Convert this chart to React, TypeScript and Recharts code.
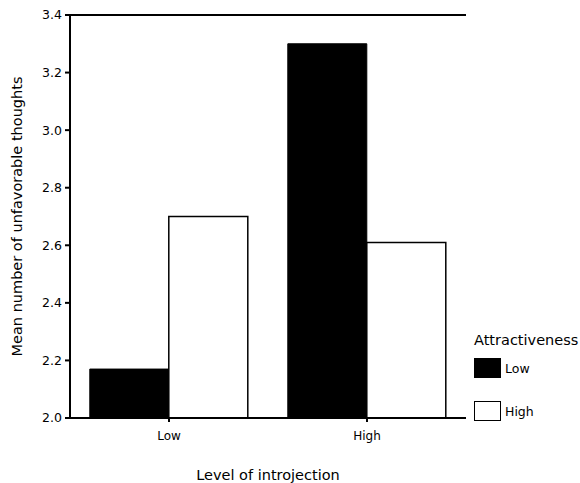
import { BarChart, Bar, XAxis, YAxis, ReferenceLine, Legend } from "recharts"

const introjection = ["Low", "High"]
const lowAttractiveness = [2.17, 3.30]
const highAttractiveness = [2.70, 2.61]
const yTicks = [2.0, 2.2, 2.4, 2.6, 2.8, 3.0, 3.2, 3.4]
const legendOrder = ["Low", "High"]

const data = introjection.map((level, i) => ({
  level,
  low: lowAttractiveness[i],
  high: highAttractiveness[i],
}))

const font = "'DejaVu Sans', sans-serif"

function AttractivenessLegend({ payload }: any) {
  const items = [...(payload || [])].sort(
    (a: any, b: any) => legendOrder.indexOf(a.value) - legendOrder.indexOf(b.value)
  )
  return (
    <div style={{ fontFamily: font, color: "#000" }}>
      <div style={{ fontSize: 14.5, lineHeight: "17px" }}>Attractiveness</div>
      {items.map((entry: any, i: number) => (
        <div
          key={entry.value}
          style={{ display: "flex", alignItems: "center", marginTop: i === 0 ? 9 : 23, height: 20 }}
        >
          <div
            style={{
              width: 25,
              height: 18,
              background: entry.color,
              border: "1.5px solid #000",
              marginRight: 4,
            }}
          />
          <span style={{ fontSize: 12.5 }}>{entry.value}</span>
        </div>
      ))}
    </div>
  )
}

export default function App() {
  return (
    <div style={{ position: "absolute", left: 0, top: 0, background: "#fff", fontFamily: font }}>
      <BarChart
        width={580}
        height={483}
        data={data}
        margin={{ top: 15, right: 114, bottom: 0, left: 10 }}
        barCategoryGap="10%"
        barGap={0}
      >
        <XAxis
          dataKey="level"
          height={65}
          stroke="#000"
          strokeWidth={2}
          tickSize={4}
          tickMargin={9}
          tick={{ fontSize: 12, fill: "#000", fontFamily: font }}
          label={{
            value: "Level of introjection",
            position: "insideBottom",
            offset: 3,
            fontSize: 14.5,
            fill: "#000",
            fontFamily: font,
          }}
        />
        <YAxis
          domain={[2, 3.4]}
          ticks={yTicks}
          width={60}
          stroke="#000"
          strokeWidth={2}
          tickSize={5}
          tickMargin={3}
          tickFormatter={(v) => Number(v).toFixed(1)}
          tick={{ fontSize: 12.5, fill: "#000", fontFamily: font }}
          label={{
            value: "Mean number of unfavorable thoughts",
            angle: -90,
            position: "insideLeft",
            offset: 7,
            fontSize: 14.5,
            fill: "#000",
            fontFamily: font,
            style: { textAnchor: "middle" },
          }}
        />
        <YAxis
          yAxisId="right"
          orientation="right"
          domain={[2, 3.4]}
          width={0}
          tick={false}
          tickLine={false}
          stroke="#000"
          strokeWidth={2}
        />
        <ReferenceLine y={3.4} stroke="#000" strokeWidth={2} />
        <Legend
          layout="horizontal"
          verticalAlign="middle"
          content={<AttractivenessLegend />}
          wrapperStyle={{ position: "absolute", left: 474, top: 332, width: 110 }}
        />
        <Bar dataKey="low" name="Low" fill="#000" stroke="#000" strokeWidth={1} isAnimationActive={false} />
        <Bar dataKey="high" name="High" fill="#fff" stroke="#000" strokeWidth={1.5} isAnimationActive={false} />
      </BarChart>
    </div>
  )
}
